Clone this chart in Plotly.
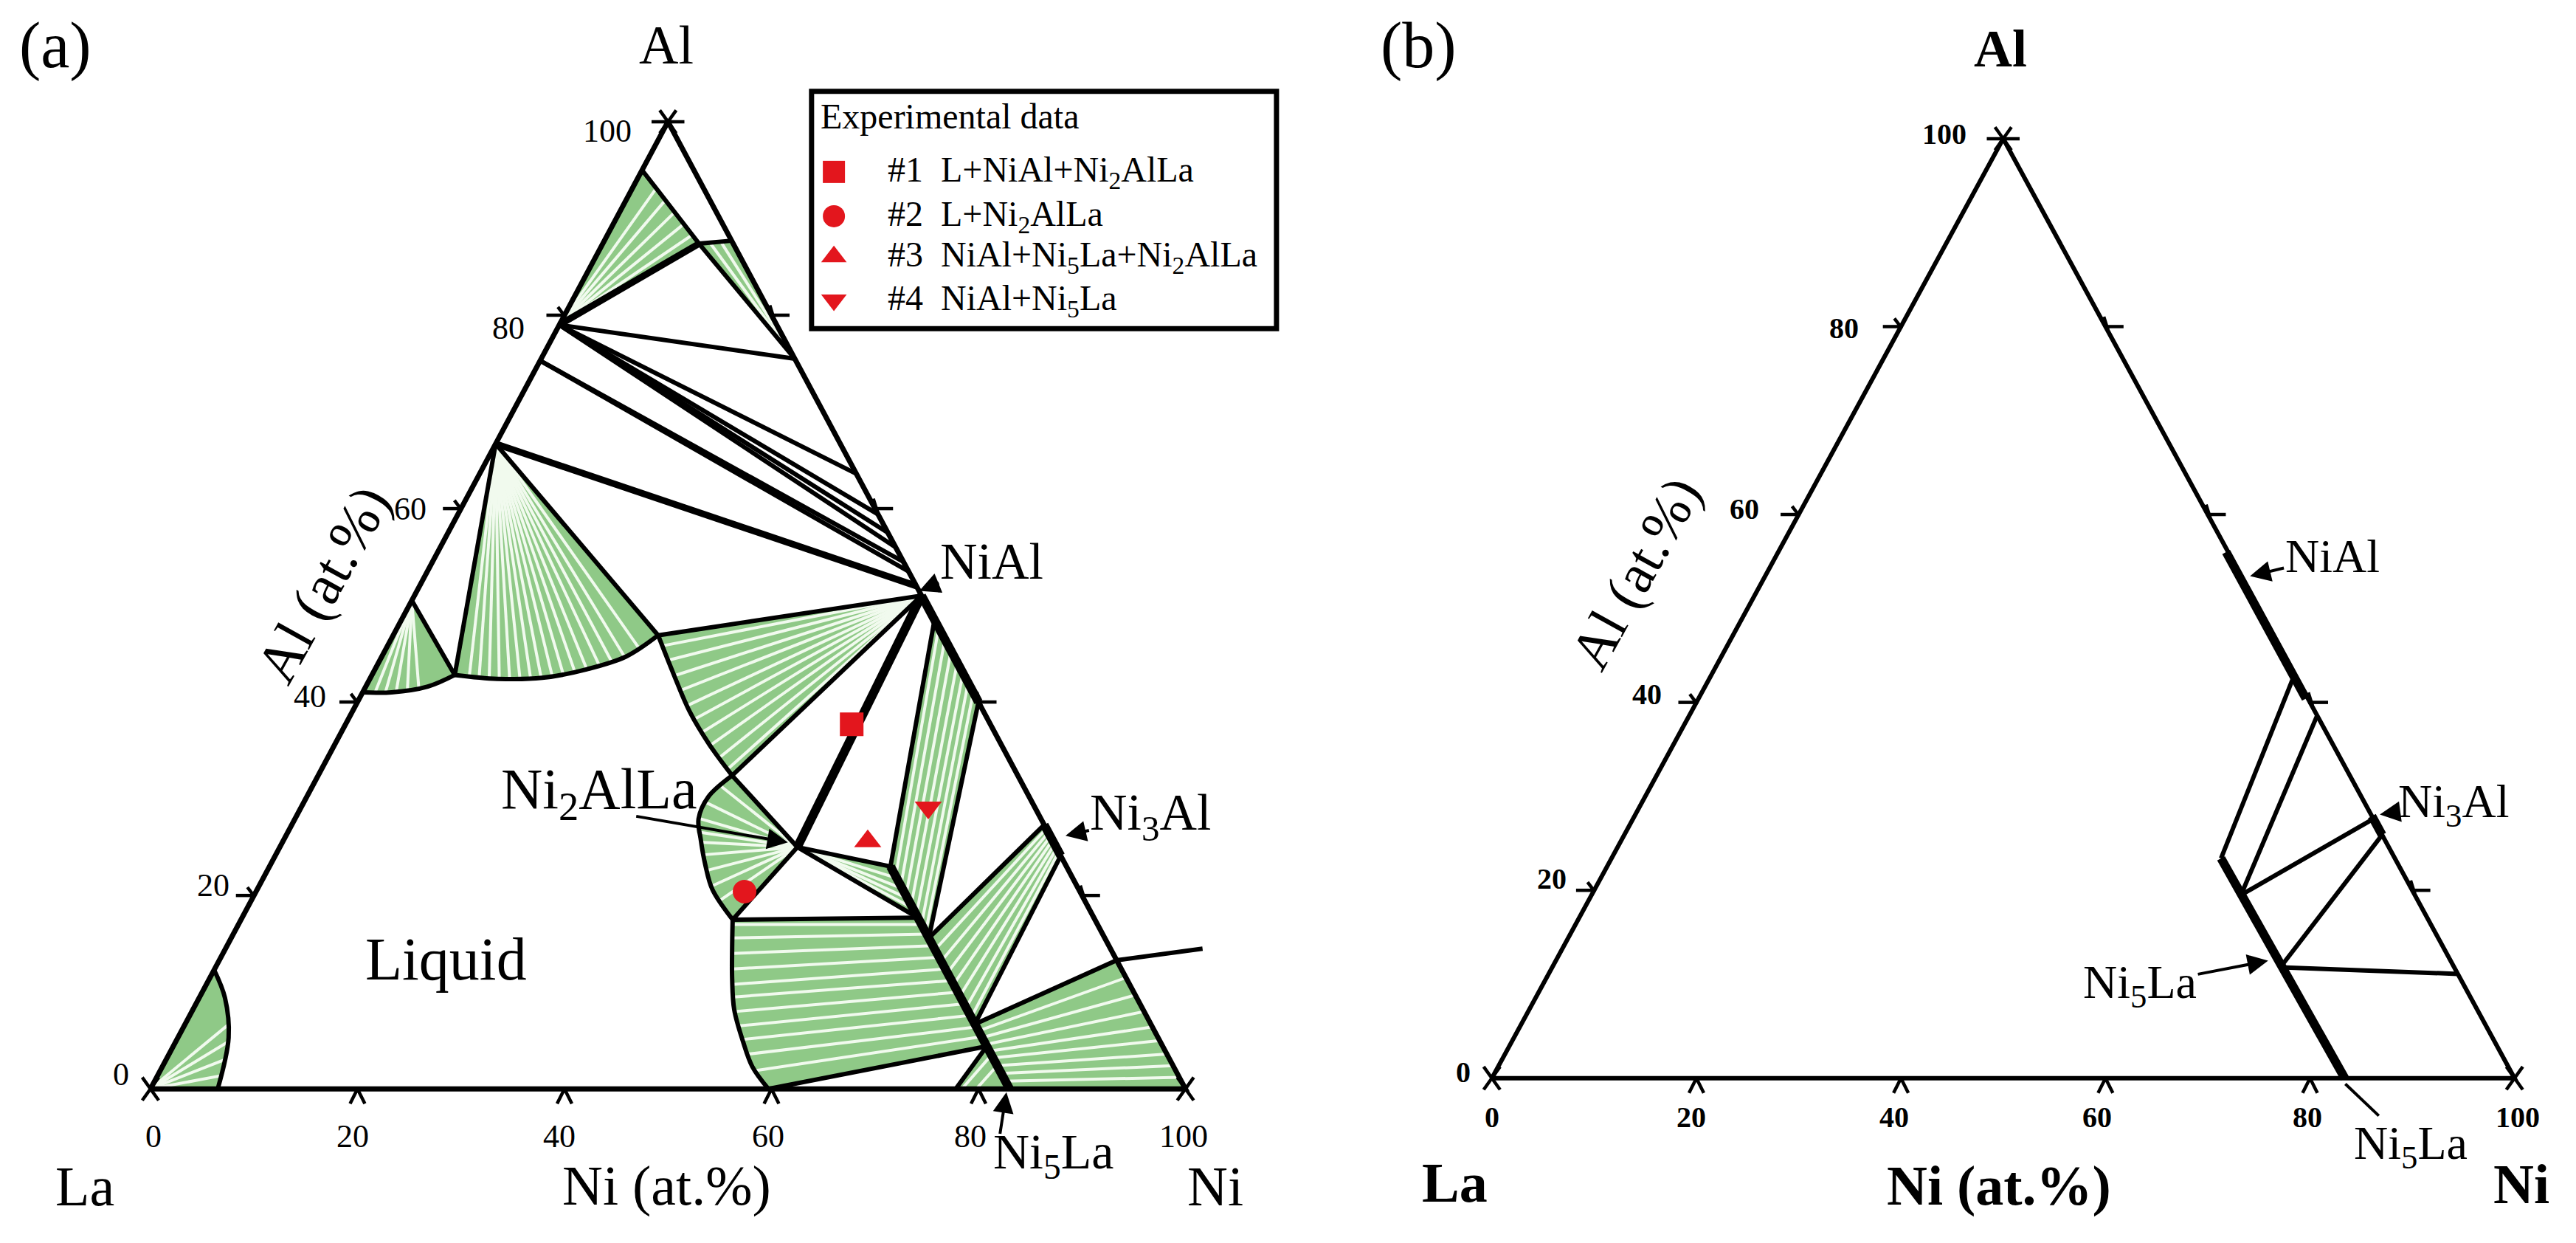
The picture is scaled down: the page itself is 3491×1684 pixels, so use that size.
import plotly.graph_objects as go

W, H = 3491, 1684
S = W / 1568.0            # preview-pixel -> figure-pixel factor
FONT = "Liberation Serif, Times New Roman, serif"
GREEN = "#8fc987"
TIE = "#f1faee"
RED = "#e3161d"

# ---------------- shared tick values ----------------
TICK_VALUES = [0, 20, 40, 60, 80, 100]
INNER_TICKS = [20, 40, 60, 80]

# ---------------- panel (a): compositions (Ni at.%, Al at.%) ----------------
A_FIELD_LA = [(0, 0), (0, 12.3), (2.5, 9.4), (4.9, 5.3), (6.5, 0)]
A_FIELD_ALTOP = [(0, 95), (9.3, 87.4), (0, 79)]
A_FIELD_AL3NI = [(9.3, 87.4), (12.3, 87.7), (24.5, 75.5)]
A_FIELD_ALLA = [(0, 50.5), (8, 42.8), (6, 41.6), (2.8, 41.0), (0, 41)]
A_FIELD_AL2LA = [(0, 66.7), (25.6, 46.9), (23.6, 44.7), (20.5, 43.4), (16.6, 42.5), (12.3, 42.4), (8, 42.8)]
A_FIELD_NIAL_L = [(25.6, 46.9), (49, 51), (40, 32.4), (36.2, 35.6), (32.6, 39.0), (29, 43)]
A_FIELD_T_L = [(50, 25), (40, 32.4), (38.8, 30.2), (39, 27.9), (40.2, 25.9), (42, 23.2), (44, 20.6), (47.5, 17.5)]
A_FIELD_N5_L = [(47.5, 17.5), (65.3, 17.7), (78.6, 4.4), (59.7, 0), (57, 2.3), (54.8, 4.9),
                (52.3, 8.2), (50.5, 11.4), (48.9, 14.6)]
A_FIELD_T_N5 = [(50, 25), (60, 23), (65.3, 17.7)]
A_FIELD_NIAL_N5 = [(60, 23), (51.5, 48.5), (60, 40), (67.4, 15.6)]
A_FIELD_N3_N5 = [(67.4, 15.6), (72.7, 27.3), (75.9, 24.1), (76.3, 6.7)]
A_FIELD_NI_N5 = [(76.3, 6.7), (86.7, 13.3), (100, 0), (83, 0)]
A_FIELD_SMALL = [(77.8, 0), (78.6, 4.4), (83, 0)]

# tie-line fans: origin + end points
A_FAN_LA = ((0, 0), [(4.3, 6.8), (5.1, 4.9), (5.8, 3.1), (6.3, 1.4)])
A_FAN_ALTOP = ((0, 79), [(2.3, 93.1), (3.8, 91.9), (5.3, 90.6), (6.8, 89.4), (8.2, 88.3)])
A_FAN_AL3NI = ((24.5, 75.5), [(10.3, 87.5), (11.3, 87.6)])
A_FAN_ALLA = ((0, 50.5), [(1.2, 41.05), (2.2, 41.0), (3.2, 41.1), (4.2, 41.25), (5.2, 41.45)])
A_FAN_AL2LA = ((0, 66.7), [(9.5, 42.6), (10.5, 42.5), (11.5, 42.45), (12.5, 42.4), (13.5, 42.4),
                           (14.5, 42.4), (15.5, 42.45), (16.5, 42.5), (17.5, 42.65), (18.5, 42.8),
                           (19.5, 43.05), (20.5, 43.35), (21.5, 43.75), (22.5, 44.15), (23.5, 44.65),
                           (24.5, 45.5)])
A_FAN_NIAL_L = ((49, 51), [(26.5, 45.8), (27.8, 44.3), (29.2, 42.7), (30.6, 41.2), (32, 39.6),
                           (33.4, 38.2), (34.8, 36.8), (36.3, 35.5), (37.8, 34.2), (39.2, 33)])
A_FAN_T_L = ((50, 25), [(39.3, 31.4), (38.9, 29.6), (38.9, 28.0), (39.4, 26.6), (40.3, 25.5),
                        (41.3, 24.2), (42.5, 22.6), (43.8, 21), (45.3, 19.5)])
A_FAN_T_N5 = ((50, 25), [(61.2, 21.8), (62.3, 20.7), (63.3, 19.7), (64.3, 18.7)])

# tie lines given as explicit pairs
A_TIES_N5_L = [((47.7, 17.0), (66.0, 17.0)), ((48.4, 15.6), (67.0, 16.0)), ((49.2, 14.0), (68.2, 14.8)),
               ((50.0, 12.4), (69.4, 13.6)), ((50.8, 10.8), (70.6, 12.4)), ((51.6, 9.5), (71.8, 11.2)),
               ((52.5, 8.0), (73.0, 10.0)), ((53.5, 6.5), (74.2, 8.8)), ((54.6, 5.1), (75.4, 7.6)),
               ((56.0, 3.6), (76.6, 6.4)), ((57.6, 1.9), (77.6, 5.4))]
A_TIES_NIAL_N5 = [((61, 22), (52.3, 47.7)), ((62, 21), (53.5, 46.5)), ((63, 20), (54.7, 45.3)),
                  ((64, 19), (55.9, 44.1)), ((65, 18), (57, 43)), ((66, 17), (58, 42)),
                  ((66.8, 16.2), (59, 41))]
A_TIES_N3_N5 = [((68.6, 14.4), (73.1, 26.9)), ((69.8, 13.2), (73.5, 26.5)), ((71, 12), (73.9, 26.1)),
                ((72.2, 10.8), (74.3, 25.7)), ((73.4, 9.6), (74.7, 25.3)), ((74.6, 8.4), (75.1, 24.9)),
                ((75.6, 7.4), (75.5, 24.5))]
A_TIES_NI_N5 = [((77, 6), (88.5, 11.5)), ((77.7, 5.3), (90.3, 9.7)), ((78.4, 4.6), (92, 8)),
                ((79.1, 3.9), (93.6, 6.4)), ((79.8, 3.2), (95, 5)), ((80.6, 2.4), (96.4, 3.6)),
                ((81.4, 1.6), (97.6, 2.4)), ((82.2, 0.8), (98.8, 1.2))]
A_TIES_SMALL = [((79.5, 3.5), (78.4, 0)), ((80.6, 2.4), (79.8, 0))]

# phase boundaries
A_LINES = [
    [(0, 95), (9.3, 87.4), (12.3, 87.7)],
    [(9.3, 87.4), (24.5, 75.5)],
    [(0, 79), (24.5, 75.5)],
    [(0, 79), (36.4, 63.6)],
    [(0, 79), (40.6, 59.4)],
    [(0, 79), (42.5, 57.5)],
    [(0, 79), (44, 56)],
    [(0, 75.3), (45.5, 54.5)],
    [(0, 75.3), (46.5, 53.5)],
    [(0, 66.7), (8, 42.8)],
    [(0, 66.7), (25.6, 46.9)],
    [(0, 50.5), (8, 42.8)],
    [(25.6, 46.9), (49, 51)],
    [(40, 32.4), (49, 51)],
    [(40, 32.4), (50, 25)],
    [(50, 25), (47.5, 17.5)],
    [(50, 25), (60, 23)],
    [(50, 25), (65.3, 17.7)],
    [(47.5, 17.5), (65.3, 17.7)],
    [(59.7, 0), (78.6, 4.4)],
    [(77.8, 0), (78.6, 4.4)],
    [(60, 23), (51.5, 48.5)],
    [(60, 40), (67.4, 15.6)],
    [(67.4, 15.6), (72.7, 27.3)],
    [(76.3, 6.7), (75.9, 24.1)],
    [(76.3, 6.7), (86.7, 13.3), (94.4, 14.5)],
]
A_LINES_MEDIUM = [
    [(0, 79), (9.3, 87.4)],
    [(0, 66.7), (48, 52)],
]
A_LINES_HEAVY = [
    [(50, 25), (49, 51)],
    [(60, 23), (83, 0)],
    [(49, 51), (60, 40)],
    [(72.7, 27.3), (75.9, 24.1)],
]
A_CURVES = [
    [(0, 41), (2.8, 41.0), (6, 41.6), (8, 42.8)],
    [(8, 42.8), (12.3, 42.4), (16.6, 42.5), (20.5, 43.4), (23.6, 44.7), (25.6, 46.9)],
    [(25.6, 46.9), (29, 43), (32.6, 39.0), (36.2, 35.6), (40, 32.4)],
    [(40, 32.4), (38.8, 30.2), (39, 27.9), (40.2, 25.9), (42, 23.2), (44, 20.6), (47.5, 17.5)],
    [(47.5, 17.5), (48.9, 14.6), (50.5, 11.4), (52.3, 8.2), (54.8, 4.9), (57, 2.3), (59.7, 0)],
    [(0, 12.3), (2.5, 9.4), (4.9, 5.3), (6.5, 0)],
]

# experimental samples
EXP_NAMES = ["#1\u00a0\u00a0L+NiAl+Ni<sub>2</sub>AlLa", "#2\u00a0\u00a0L+Ni<sub>2</sub>AlLa",
             "#3\u00a0\u00a0NiAl+Ni<sub>5</sub>La+Ni<sub>2</sub>AlLa", "#4\u00a0\u00a0NiAl+Ni<sub>5</sub>La"]
EXP_NI = [48.9, 47.2, 56.5, 60.6]
EXP_AL = [37.7, 20.4, 25.6, 29.1]
EXP_SYMBOLS = ["square", "circle", "triangle-up", "triangle-down"]

# ---------------- panel (b) ----------------
B_LINES = [
    [(57, 43), (59.6, 23.4)],
    [(61.4, 38.6), (63.5, 19.5)],
    [(72.4, 27.6), (63.5, 19.5)],
    [(74.1, 25.9), (71.2, 11.8)],
    [(71.2, 11.8), (88.9, 11.1)],
]
B_LINES_HEAVY = [
    [(43.8, 56.0), (59.4, 40.4)],
    [(59.6, 23.4), (83.4, 0)],
    [(72.1, 27.9), (74.1, 25.9)],
]


# ---------------- helpers ----------------
def tern(ni, al):
    return ni + al / 2.0, al


def poly_xy(pts):
    xs, ys = [], []
    for ni, al in pts:
        x, y = tern(ni, al)
        xs.append(x)
        ys.append(y)
    return xs, ys


def multi_xy(polylines):
    xs, ys = [], []
    for pl in polylines:
        a, b = poly_xy(pl)
        xs += a + [None]
        ys += b + [None]
    return xs, ys


def fan(f):
    origin, ends = f
    return [[origin, e] for e in ends]


def axis_ranges(la, ni, al_y, dom):
    x0, x1 = la[0] * S, ni[0] * S
    sx = (x1 - x0) / 100.0
    d0, d1 = dom[0] * W, dom[1] * W
    yb, yt = la[1] * S, al_y * S
    sy = (yb - yt) / 100.0
    return [(d0 - x0) / sx, (d1 - x0) / sx], [(yb - H) / sy, yb / sy], \
        (x1 - x0) / S / 100.0, (yb - yt) / S / 100.0


DOM_A = [0, 0.52]
DOM_B = [0.52, 1.0]
XR_A, YR_A, PXA, PYA = axis_ranges((88, 659), (718, 659), 70.5, DOM_A)
XR_B, YR_B, PXB, PYB = axis_ranges((904.5, 652.5), (1527, 652.5), 80.8, DOM_B)

fig = go.Figure()


def add_line(polylines, width, xa, ya, color="black", shape="linear"):
    xs, ys = multi_xy(polylines)
    fig.add_trace(go.Scatter(x=xs, y=ys, mode="lines", xaxis=xa, yaxis=ya, hoverinfo="skip",
                             showlegend=False,
                             line=dict(color=color, width=width, shape=shape, smoothing=1.0)))


def add_field(pts, xa, ya):
    xs, ys = poly_xy(pts + [pts[0]])
    fig.add_trace(go.Scatter(x=xs, y=ys, mode="lines", fill="toself", fillcolor=GREEN,
                             line=dict(width=0, color=GREEN), xaxis=xa, yaxis=ya,
                             hoverinfo="skip", showlegend=False))


def frame_and_ticks(xa, ya, px_x, px_y, edge_w):
    add_line([[(0, 0), (100, 0), (0, 100), (0, 0)]], edge_w, xa, ya)
    ux, uy = 1.0 / px_x, 1.0 / px_y   # data units per preview pixel
    segs = []
    for v in INNER_TICKS:
        x0, y0 = tern(0, v)
        segs.append([(x0 - 11 * ux, y0), (x0 + 1 * ux, y0)])
        segs.append([(x0 - 4 * ux, y0 + 5 * uy), (x0 + 0.5 * ux, y0 - 1 * uy)])
        x1, y1 = tern(100 - v, v)
        segs.append([(x1 - 1 * ux, y1), (x1 + 11 * ux, y1)])
        segs.append([(x1 - 1 * ux, y1 + 6 * uy), (x1 + 1.5 * ux, y1 - 2 * uy)])
        xb, yb = tern(v, 0)
        segs.append([(xb - 4.5 * ux, yb - 9 * uy), (xb, yb), (xb + 4.5 * ux, yb - 9 * uy)])
    for ni, al in [(0, 0), (100, 0), (0, 100)]:
        xv, yv = tern(ni, al)
        segs.append([(xv - 5 * ux, yv - 7 * uy), (xv + 5 * ux, yv + 7 * uy)])
        segs.append([(xv - 5 * ux, yv + 7 * uy), (xv + 5 * ux, yv - 7 * uy)])
        if al == 100:
            segs.append([(xv - 10 * ux, yv), (xv + 10 * ux, yv)])
    xs, ys = [], []
    for sg in segs:
        for p in sg:
            xs.append(p[0])
            ys.append(p[1])
        xs.append(None)
        ys.append(None)
    fig.add_trace(go.Scatter(x=xs, y=ys, mode="lines", xaxis=xa, yaxis=ya, hoverinfo="skip",
                             showlegend=False, line=dict(color="black", width=4.5)))


# ---------------- panel (a) ----------------
for fld in [A_FIELD_LA, A_FIELD_ALTOP, A_FIELD_AL3NI, A_FIELD_ALLA, A_FIELD_AL2LA, A_FIELD_NIAL_L,
            A_FIELD_T_L, A_FIELD_N5_L, A_FIELD_T_N5, A_FIELD_NIAL_N5, A_FIELD_N3_N5, A_FIELD_NI_N5,
            A_FIELD_SMALL]:
    add_field(fld, "x", "y")

ties = []
for f in [A_FAN_LA, A_FAN_ALTOP, A_FAN_AL3NI, A_FAN_ALLA, A_FAN_AL2LA, A_FAN_NIAL_L, A_FAN_T_L,
          A_FAN_T_N5]:
    ties += fan(f)
for grp in [A_TIES_N5_L, A_TIES_NIAL_N5, A_TIES_N3_N5, A_TIES_NI_N5, A_TIES_SMALL]:
    ties += [list(p) for p in grp]
add_line(ties, 4, "x", "y", color=TIE)

add_line(A_LINES, 6, "x", "y")
add_line(A_CURVES, 6, "x", "y", shape="spline")
add_line(A_LINES_MEDIUM, 9, "x", "y")
add_line(A_LINES_HEAVY, 12, "x", "y")
frame_and_ticks("x", "y", PXA, PYA, 7)

for i in range(len(EXP_NI)):
    ex, ey = tern(EXP_NI[i], EXP_AL[i])
    fig.add_trace(go.Scatter(x=[ex], y=[ey], mode="markers", xaxis="x", yaxis="y",
                             name=EXP_NAMES[i], showlegend=False, hoverinfo="name",
                             marker=dict(symbol=EXP_SYMBOLS[i], size=32, color=RED)))

# ---------------- panel (b) ----------------
frame_and_ticks("x2", "y2", PXB, PYB, 6)
add_line(B_LINES, 6, "x2", "y2")
add_line(B_LINES_HEAVY, 12, "x2", "y2")

# ---------------- legend keys (overlay axis in preview-pixel space) ----------------
LEG_ROWS_Y = [101, 128, 152.6, 179]
fig.add_trace(go.Scatter(x=[504] * 4, y=LEG_ROWS_Y, mode="markers", xaxis="x3", yaxis="y3",
                         hoverinfo="skip", showlegend=False,
                         marker=dict(symbol=EXP_SYMBOLS, size=30, color=RED)))

# ---------------- annotations ----------------
ann = []


def txt(t, xs, ys, size, bold=False, xanchor="center", yanchor="middle", angle=0):
    ann.append(dict(text=("<b>%s</b>" % t) if bold else t, x=xs * S / W, y=1 - ys * S / H,
                    xref="paper", yref="paper", showarrow=False, xanchor=xanchor, yanchor=yanchor,
                    textangle=angle, font=dict(family=FONT, size=size, color="black")))


def label_arrow(t, center, tip, size, head=2):
    # label text whose arrow runs from the text box to the tip
    ann.append(dict(text=t, x=tip[0] * S / W, y=1 - tip[1] * S / H, xref="paper", yref="paper",
                    ax=(center[0] - tip[0]) * S, ay=(center[1] - tip[1]) * S, axref="pixel",
                    ayref="pixel", showarrow=True, arrowhead=head, arrowsize=1.4, arrowwidth=4,
                    arrowcolor="black", standoff=0, startstandoff=0,
                    font=dict(family=FONT, size=size, color="black")))


def arrow(tip, tail, head=2):
    ann.append(dict(text="", x=tip[0] * S / W, y=1 - tip[1] * S / H, xref="paper", yref="paper",
                    ax=(tail[0] - tip[0]) * S, ay=(tail[1] - tip[1]) * S, axref="pixel",
                    ayref="pixel", showarrow=True, arrowhead=head, arrowsize=1.4, arrowwidth=4,
                    arrowcolor="black", standoff=0, startstandoff=0))


# panel (a)
txt("(a)", 30, 24, 88)
txt("Al", 402, 24, 74)
for lab, (lx, ly) in zip(TICK_VALUES, [(70, 650), (126, 535), (185, 420), (246, 306), (306, 196),
                                       (366, 76)]):
    txt(str(lab), lx, ly, 44)
for lab, lx in zip(TICK_VALUES, [90, 211, 337, 464, 587, 717]):
    txt(str(lab), lx, 688, 44)
txt("La", 48, 718, 76)
txt("Ni (at.%)", 402, 718, 76)
txt("Ni", 736, 718, 76)
txt("Al (at.%)", 193, 352, 78, angle=-61)
txt("Liquid", 268, 580, 82)
txt("Ni<sub>2</sub>AlLa", 361, 479, 78)
arrow((476, 509), (383, 493))
label_arrow("NiAl", (600, 338), (556, 356), 70)
label_arrow("Ni<sub>3</sub>Al", (697, 493), (645, 505), 70)
txt("Ni<sub>5</sub>La", 638, 699, 68)
arrow((609, 661), (605, 687))

# legend box
txt("Experimental data", 495, 67, 48, xanchor="left")
for name, ry in zip(EXP_NAMES, LEG_ROWS_Y):
    txt(name, 536, ry, 48, xanchor="left")

# panel (b)
txt("(b)", 860, 24, 88)
txt("Al", 1214, 26, 72, bold=True)
for lab, (lx, ly) in zip(TICK_VALUES, [(887, 649), (941, 531), (999, 419), (1058, 306),
                                       (1119, 196), (1180, 78)]):
    txt(str(lab), lx, ly, 40, bold=True)
for lab, lx in zip(TICK_VALUES, [904.5, 1026, 1149.5, 1273, 1401, 1529]):
    txt(str(lab), lx, 676, 40, bold=True)
txt("La", 882, 716, 76, bold=True)
txt("Ni (at.%)", 1213, 718, 76, bold=True)
txt("Ni", 1531, 717, 76, bold=True)
txt("Al (at.%)", 992, 345, 76, angle=-61)
label_arrow("NiAl", (1416, 335), (1366, 347), 64)
label_arrow("Ni<sub>3</sub>Al", (1490, 486), (1445, 492), 64)
label_arrow("Ni<sub>5</sub>La", (1299, 596), (1377, 581), 64)
label_arrow("Ni<sub>5</sub>La", (1464, 694), (1424, 656), 64, head=0)

shapes = [dict(type="rect", xref="paper", yref="paper", x0=490.4 * S / W, x1=773.4 * S / W,
               y0=1 - 196.4 * S / H, y1=1 - 52 * S / H, line=dict(color="black", width=7),
               fillcolor="rgba(0,0,0,0)")]

hidden = dict(visible=False, showgrid=False, zeroline=False, fixedrange=True)
fig.update_layout(
    width=W, height=H, autosize=False,
    margin=dict(l=0, r=0, t=0, b=0, pad=0),
    paper_bgcolor="white", plot_bgcolor="rgba(0,0,0,0)",
    showlegend=False,
    xaxis=dict(domain=DOM_A, range=XR_A, anchor="y", **hidden),
    yaxis=dict(domain=[0, 1], range=YR_A, anchor="x", **hidden),
    xaxis2=dict(domain=DOM_B, range=XR_B, anchor="y2", **hidden),
    yaxis2=dict(domain=[0, 1], range=YR_B, anchor="x2", **hidden),
    xaxis3=dict(domain=[0, 1], range=[0, 1568], anchor="y3", **hidden),
    yaxis3=dict(domain=[0, 1], range=[H / S, 0], anchor="x3", **hidden),
    annotations=ann,
    shapes=shapes,
)

fig.write_html("out.html")
